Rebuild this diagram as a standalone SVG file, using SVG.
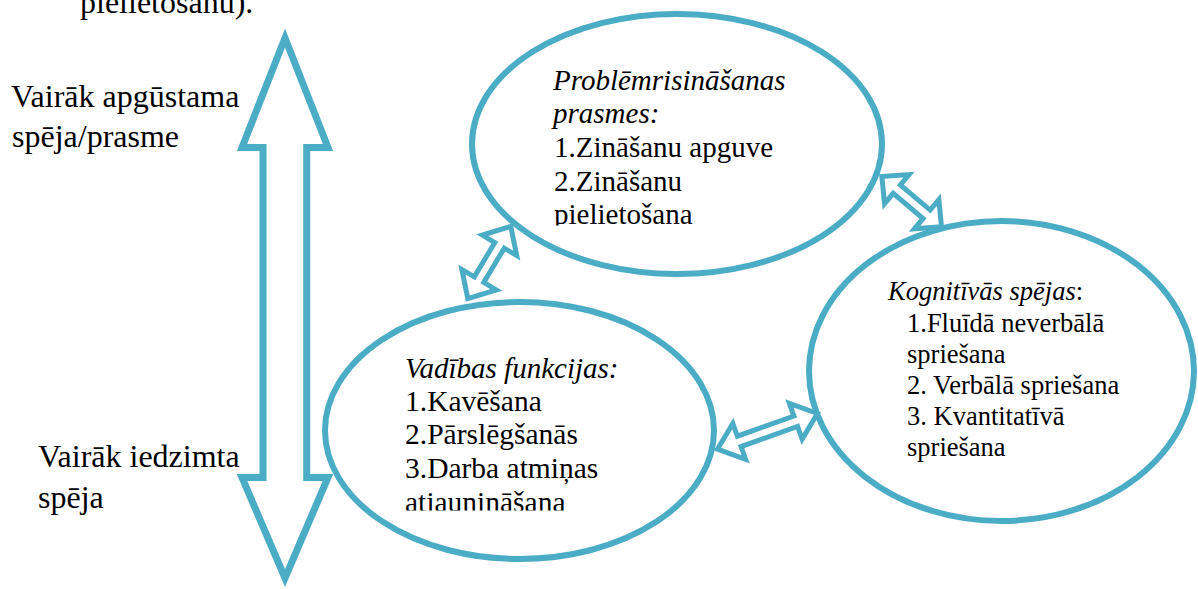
<svg xmlns="http://www.w3.org/2000/svg" width="1198" height="589" viewBox="0 0 1198 589">
  <style>
    .bg { fill: #ffffff; }
    .shape { fill: #ffffff; stroke: #4BACC6; stroke-width: 6; }
    .big { fill: #ffffff; stroke: #4BACC6; stroke-width: 7; stroke-linejoin: miter; stroke-miterlimit: 10; }
    .conn { fill: #ffffff; stroke: #4BACC6; stroke-width: 5; stroke-linejoin: miter; stroke-miterlimit: 10; }
    text { font-family: 'Liberation Serif', 'Times New Roman', serif; fill: #000000; }
    .lbl { font-size: 32px; }
    .it { font-style: italic; }
  </style>
  <defs>
    <clipPath id="clipTop"><rect x="460" y="20" width="430" height="205.5"/></clipPath>
    <clipPath id="clipVad"><rect x="320" y="300" width="400" height="210.5"/></clipPath>
  </defs>
  <rect class="bg" x="0" y="0" width="1198" height="589"/>

  <g id="caption" font-family="Liberation Serif, serif">
    <text class="lbl" x="80" y="13">pielietošanu).</text>
  </g>

  <g id="scale-arrow">
    <polygon class="big" points="285,38 328,147.5 306.7,147.5 306.7,477.5 328,477.5 285,578 242,477.5 263,477.5 263,147.5 242,147.5"/>
  </g>

  <g id="label-acquired" font-family="Liberation Serif, serif">
    <text class="lbl" x="11" y="107">Vairāk apgūstama</text>
    <text class="lbl" x="12" y="147">spēja/prasme</text>
  </g>

  <g id="label-innate" font-family="Liberation Serif, serif">
    <text class="lbl" x="38" y="467">Vairāk iedzimta</text>
    <text class="lbl" x="38" y="508">spēja</text>
  </g>

  <g id="node-problem" font-family="Liberation Serif, serif">
    <ellipse class="shape" cx="677" cy="144" rx="205" ry="130"/>
    <g clip-path="url(#clipTop)">
      <text class="it" x="553" y="89.5" font-size="29">Problēmrisināšanas</text>
      <text class="it" x="553" y="123" font-size="29">prasmes:</text>
      <text x="554" y="157" font-size="29">1.Zināšanu apguve</text>
      <text x="554" y="190.5" font-size="29">2.Zināšanu</text>
      <text x="554" y="224" font-size="29">pielietošana</text>
    </g>
  </g>

  <g id="node-executive" font-family="Liberation Serif, serif">
    <ellipse class="shape" cx="519.5" cy="430.5" rx="194.5" ry="128.5"/>
    <g clip-path="url(#clipVad)">
      <text class="it" x="405" y="377.7" font-size="29">Vadības funkcijas:</text>
      <text x="405" y="410.5" font-size="29.5">1.Kavēšana</text>
      <text x="405" y="444.3" font-size="29.5">2.Pārslēgšanās</text>
      <text x="405" y="478.3" font-size="29.5">3.Darba atmiņas</text>
      <text x="405" y="512" font-size="29.5">atjaunināšana</text>
    </g>
  </g>

  <g id="node-cognitive" font-family="Liberation Serif, serif">
    <ellipse class="shape" cx="1001.5" cy="371" rx="192.5" ry="150"/>
    <text x="888" y="300" font-size="26.5"><tspan class="it">Kognitīvās spējas</tspan>:</text>
    <text x="907" y="332" font-size="26.5">1.Fluīdā neverbālā</text>
    <text x="907" y="362.5" font-size="26.5">spriešana</text>
    <text x="907" y="394" font-size="26.5">2. Verbālā spriešana</text>
    <text x="907" y="425" font-size="26.5">3. Kvantitatīvā</text>
    <text x="907" y="455.5" font-size="26.5">spriešana</text>
  </g>

  <g id="connectors">
    <polygon class="conn" transform="translate(489.3,262.5) rotate(120.8)" points="-42,0 -20,-20 -20,-5.5 20,-5.5 20,-20 42,0 20,20 20,5.5 -20,5.5 -20,20"/>
    <polygon class="conn" transform="translate(767.5,431.3) rotate(-19.6)" points="-53,0 -30,-19 -30,-5.5 30,-5.5 30,-19 53,0 30,19 30,5.5 -30,5.5 -30,19"/>
    <polygon class="conn" transform="translate(911.7,201.7) rotate(40.1)" points="-39,0 -19.5,-19 -19.5,-5.5 19.5,-5.5 19.5,-19 39,0 19.5,19 19.5,5.5 -19.5,5.5 -19.5,19"/>
  </g>
</svg>
